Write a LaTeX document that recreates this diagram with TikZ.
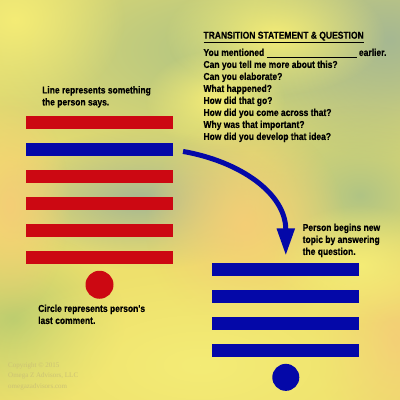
\documentclass[tikz,border=0pt]{standalone}
\usepackage{fontspec}
\newfontfamily\condfont[FakeStretch=0.85,BoldFeatures={FakeBold=0.3}]{Liberation Sans}
\newfontfamily\notefont{Liberation Serif}
\usepackage{xcolor}
\usetikzlibrary{arrows.meta,positioning,fadings}

\definecolor{barred}{RGB}{204,8,18}
\definecolor{barblue}{RGB}{4,8,168}
\definecolor{bgyellow}{RGB}{238,224,108}
\definecolor{bggreen}{RGB}{176,196,132}
\definecolor{bggrey}{RGB}{166,184,146}
\definecolor{bgorange}{RGB}{244,206,118}
\definecolor{bglight}{RGB}{244,236,118}
\definecolor{notecol}{RGB}{204,194,116}

\tikzfading[name=soft, inner color=transparent!0, outer color=transparent!100]

\begin{document}
\begin{tikzpicture}[x=1pt,y=-1pt,
  node distance=13.3pt,
  every node/.style={font=\condfont\bfseries\fontsize{10}{12}\selectfont,
                     align=left,inner sep=0pt},
  bar/.style={minimum width=147pt,minimum height=13.3pt,inner sep=0pt},
  redbar/.style={bar,fill=barred},
  bluebar/.style={bar,fill=barblue},
  dot/.style={circle,minimum size=28pt,inner sep=0pt},
  note/.style={font=\notefont\fontsize{7}{10.5}\selectfont,text=notecol},
  turn/.style={-{Triangle[length=27pt,width=17pt]},line width=5pt,
               draw=barblue}
]
\useasboundingbox (0,0) rectangle (400,400);
% background
\begin{scope}
\clip (0,0) rectangle (400,400);
\fill[bgyellow] (0,0) rectangle (400,400);
\fill[bggreen,path fading=soft] (230,50) ellipse (340 and 150);
\fill[bggrey,path fading=soft] (390,40) ellipse (140 and 120);
\fill[bglight,path fading=soft] (275,35) ellipse (110 and 60);
\fill[bglight,path fading=soft] (15,20) ellipse (110 and 90);
\fill[bglight,path fading=soft] (215,100) ellipse (70 and 50);
\fill[bggrey,path fading=soft] (140,200) ellipse (150 and 70);
\fill[bggreen,path fading=soft] (360,195) ellipse (120 and 90);
\fill[bggreen!85!yellow,path fading=soft] (15,320) ellipse (110 and 90);
\fill[bgorange,path fading=soft] (395,340) ellipse (80 and 110);
\fill[bgorange,path fading=soft] (245,225) ellipse (100 and 110);
\fill[bgorange,path fading=soft] (10,205) ellipse (60 and 110);
\fill[bglight,path fading=soft] (200,365) ellipse (220 and 100);
\fill[bglight,path fading=soft] (360,265) ellipse (90 and 60);
\end{scope}

% left column: what the person says
\node[redbar] (lbar1) at (99.5,122.7) {};
\node[bluebar,below=of lbar1] (lbar2) {};
\node[redbar,below=of lbar2] (lbar3) {};
\node[redbar,below=of lbar3] (lbar4) {};
\node[redbar,below=of lbar4] (lbar5) {};
\node[redbar,below=of lbar5] (lbar6) {};
\node[dot,fill=barred,below=6pt of lbar6] (ldot) {};

% right column: the new topic
\node[bluebar] (rbar1) at (285.8,269.3) {};
\node[bluebar,below=of rbar1] (rbar2) {};
\node[bluebar,below=of rbar2] (rbar3) {};
\node[bluebar,below=of rbar3] (rbar4) {};
\node[dot,minimum size=27pt,fill=barblue,below=6.5pt of rbar4] (rdot) {};

% labels
\node[anchor=north west] (linetext) at (42,86)
  {Line represents something\\the person says.};
\node[anchor=north west] (dottext) at (38,304.5)
  {Circle represents person's\\last comment.};
\node[anchor=north west] (newtext) at (302.5,223.5)
  {Person begins new\\topic by answering\\the question.};
\node[anchor=north west] (qtitle) at (203.3,31.5)
  {\underline{TRANSITION STATEMENT \& QUESTION}};
\node[anchor=north west] (qlist) at (203.3,48.5)
  {You mentioned \underline{\hspace{90pt}} earlier.\\
   Can you tell me more about this?\\
   Can you elaborate?\\
   What happened?\\
   How did that go?\\
   How did you come across that?\\
   Why was that important?\\
   How did you develop that idea?};
\node[note,anchor=north west] (copy) at (8,362)
  {Copyright \textcopyright\ 2015\\Omega Z Advisors, LLC\\omegazadvisors.com};

\draw[turn,shorten <=10pt,shorten >=7pt] (lbar2.east)
  to[out=-10,in=90,looseness=1.1] (rbar1.north);
\end{tikzpicture}
\end{document}
